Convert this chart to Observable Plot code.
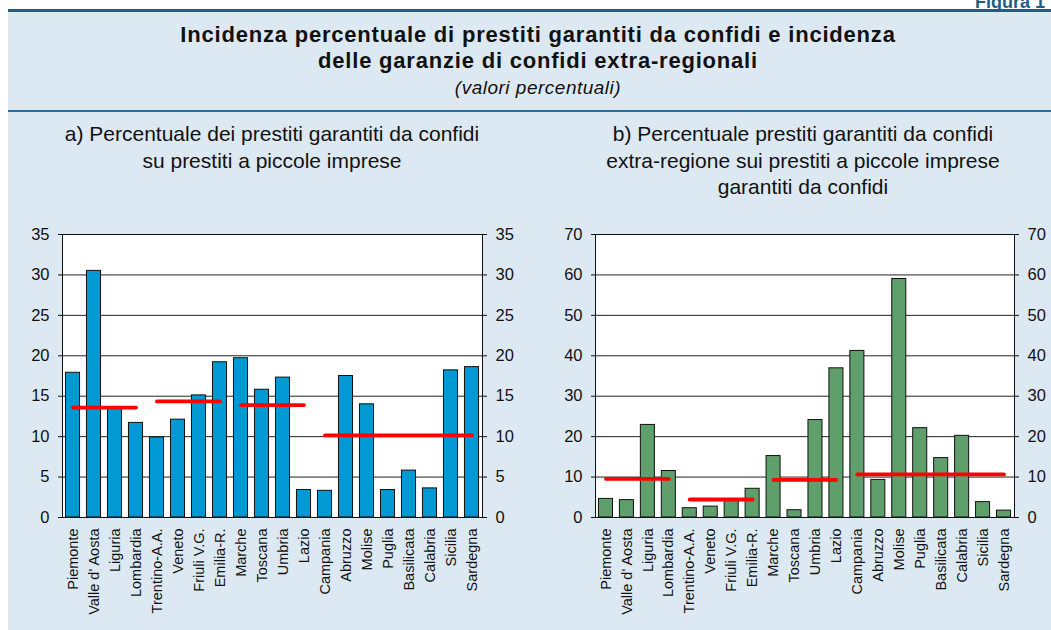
<!DOCTYPE html>
<html>
<head>
<meta charset="utf-8">
<script src="https://cdn.jsdelivr.net/npm/d3@7"></script>
<script src="https://cdn.jsdelivr.net/npm/@observablehq/plot@0.6"></script>
<style>
  html, body { margin: 0; padding: 0; }
  body { width: 1051px; height: 630px; position: relative; overflow: hidden; background: #ffffff;
         font-family: "Liberation Sans", Arial, Helvetica, sans-serif; color: #111; }
  #panel { position: absolute; left: 8px; top: 9px; right: 0; bottom: 0; background: #dde9f2;
           border-top: 3.5px solid #1d5f86; }
  #fig { position: absolute; left: 975px; top: -7px; font-weight: bold; font-size: 18px; line-height: 18px;
         color: #1d5f86; white-space: nowrap; }
  #sep { position: absolute; left: 8px; right: 0; top: 110px; height: 1.5px; background: #2e6e95; }
  .ctr { position: absolute; transform: translateX(-50%); text-align: center; white-space: nowrap; }
  #title { left: 538px; top: 22px; font-weight: bold; font-size: 22px; letter-spacing: 0.8px; line-height: 26px; }
  #sub { left: 538px; top: 77px; font-style: italic; font-size: 19px; letter-spacing: 0.5px; line-height: 22px; }
  .ct { top: 121px; font-size: 21px; line-height: 26.5px; }
  #ctA { left: 272px; }
  #ctB { left: 803px; }
  #chartA { position: absolute; left: 0; top: 220px; }
  #chartB { position: absolute; left: 530px; top: 220px; }
</style>
</head>
<body>
<div id="panel"></div>
<div id="fig">Figura 1</div>
<div id="sep"></div>
<div id="title" class="ctr">Incidenza percentuale di prestiti garantiti da confidi e incidenza<br>delle garanzie di confidi extra-regionali</div>
<div id="sub" class="ctr">(valori percentuali)</div>
<div id="ctA" class="ctr ct">a) Percentuale dei prestiti garantiti da confidi<br>su prestiti a piccole imprese</div>
<div id="ctB" class="ctr ct">b) Percentuale prestiti garantiti da confidi<br>extra-regione sui prestiti a piccole imprese<br>garantiti da confidi</div>
<div id="chartA"></div>
<div id="chartB"></div>
<script>
// Regions (x categories)
const regions = ["Piemonte", "Valle d' Aosta", "Liguria", "Lombardia", "Trentino-A.A.", "Veneto", "Friuli V.G.", "Emilia-R.",
  "Marche", "Toscana", "Umbria", "Lazio", "Campania", "Abruzzo", "Molise", "Puglia", "Basilicata", "Calabria", "Sicilia", "Sardegna"];

// Panel a): % of small-business loans guaranteed by confidi
const shareA = [17.9, 30.5, 13.6, 11.7, 9.9, 12.1, 15.1, 19.2, 19.7, 15.8, 17.3, 3.4, 3.3, 17.5, 14.0, 3.4, 5.8, 3.6, 18.2, 18.6];

// Panel b): % guaranteed by extra-regional confidi
const shareB = [4.6, 4.3, 22.9, 11.5, 2.3, 2.7, 4.4, 7.1, 15.2, 1.8, 24.1, 36.9, 41.2, 9.3, 59.0, 22.1, 14.7, 20.2, 3.8, 1.7];

// Macro-area averages (red lines)
const areas = ["Nord-Ovest", "Nord-Est", "Centro", "Sud e Isole"];
const areaFirst = ["Piemonte", "Trentino-A.A.", "Marche", "Campania"];
const areaLast = ["Lombardia", "Emilia-R.", "Lazio", "Sardegna"];
const areaA = [13.6, 14.35, 13.9, 10.15];
const areaB = [9.55, 4.45, 9.3, 10.65];

// Y-axis ticks
const ticksA = [0, 5, 10, 15, 20, 25, 30, 35];
const ticksB = [0, 10, 20, 30, 40, 50, 60, 70];

function chart(values, areaValues, ticks, fill, width, marginLeft, marginRight) {
  const data = regions.map((r, i) => ({region: r, value: values[i]}));
  const lineData = areas.flatMap((a, i) => [
    {area: a, region: areaFirst[i], value: areaValues[i]},
    {area: a, region: areaLast[i], value: areaValues[i]}
  ]);
  const yMax = ticks[ticks.length - 1];
  return Plot.plot({
    width, height: 410,
    marginTop: 14, marginBottom: 113, marginLeft, marginRight,
    style: {background: "transparent", fontFamily: "'Liberation Sans', Arial, sans-serif", fontSize: "16px", color: "#111"},
    x: {type: "band", domain: regions, paddingInner: 0.33, paddingOuter: 0.165, round: false, label: null},
    y: {domain: [0, yMax], label: null},
    marks: [
      Plot.frame({fill: "white"}),
      Plot.ruleY(ticks.slice(1, -1), {stroke: "#222", strokeWidth: 1}),
      Plot.barY(data, {x: "region", y: "value", fill, stroke: "#111", strokeWidth: 1}),
      Plot.line(lineData, {x: "region", y: "value", z: "area", stroke: "#ff0000", strokeWidth: 3.8}),
      Plot.frame({stroke: "#111", strokeWidth: 1}),
      Plot.axisY({anchor: "left", ticks, tickSize: 4, tickPadding: 9, label: null, fontSize: 16.5}),
      Plot.axisY({anchor: "right", ticks, tickSize: 4, tickPadding: 9, label: null, fontSize: 16.5}),
      Plot.axisX({anchor: "bottom", tickSize: 0, tickPadding: 11, tickRotate: -90, label: null, fontSize: 14.5})
    ]
  });
}

document.getElementById("chartA").append(chart(shareA, areaA, ticksA, "#0099d4", 530, 62, 48));
document.getElementById("chartB").append(chart(shareB, areaB, ticksB, "#5e9f6c", 521, 65, 37));
</script>
</body>
</html>
